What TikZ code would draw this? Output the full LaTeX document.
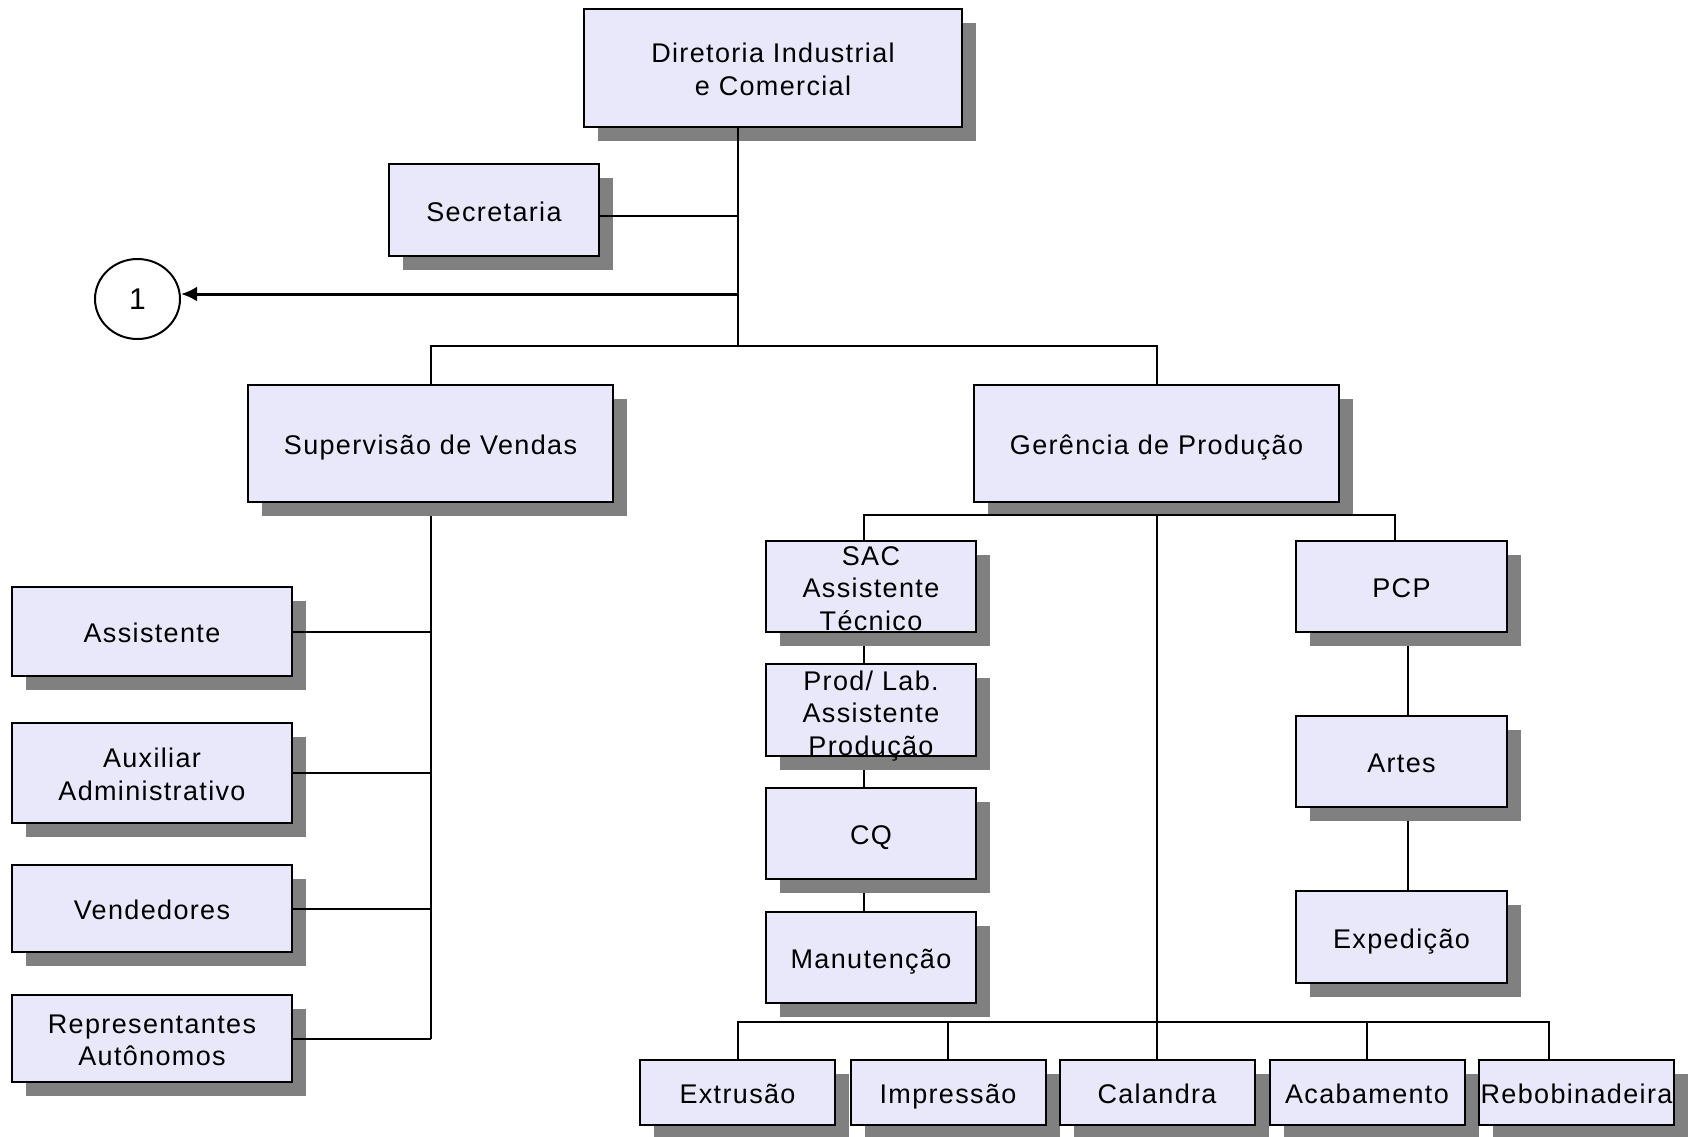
\documentclass[tikz,border=0pt]{standalone}
\usepackage{fontspec}
\setmainfont{Liberation Sans}[LetterSpace=5]
\usetikzlibrary{shadows,arrows.meta,shapes.geometric}
\definecolor{boxfill}{RGB}{232,232,250}
\definecolor{shadowgray}{RGB}{128,128,128}
\pgfdeclarelayer{bg}
\pgfsetlayers{bg,main}
\newcommand\boxfont{\fontsize{27}{32.5}\selectfont\lineskiplimit=-100pt\relax}
\newcommand\ls{\rule[-6pt]{0pt}{34pt}}
\begin{document}
\begin{tikzpicture}[x=1pt,y=-1pt,
  orgbox/.style={draw=black, line width=2pt, fill=boxfill, inner sep=0pt,
    align=center, font=\boxfont,
    drop shadow={shadow xshift=14pt, shadow yshift=-14pt, opacity=1, fill=shadowgray}},
  boxtext/.style={inner sep=0pt, align=center, font=\boxfont},
  leftbox/.style={orgbox, minimum width=280pt},
  chainbox/.style={orgbox, minimum width=210pt, minimum height=91pt},
  rowbox/.style={orgbox, minimum width=195pt, minimum height=65pt},
  conn/.style={line width=2pt, draw=black},
  arrowline/.style={line width=3pt, draw=black, -{Latex[length=16pt,width=15pt]}},
  refcircle/.style={draw=black, line width=2pt, fill=white, ellipse,
    minimum width=85pt, minimum height=80pt, inner sep=0pt, font=\fontsize{30}{34}\selectfont}
]
\useasboundingbox (0,0) rectangle (1688,1136);

% nodes
\node[orgbox, minimum width=378pt, minimum height=118pt] (dir) at (773,68) {\ls Diretoria Industrial\\\ls e Comercial};
\node[orgbox, minimum width=210pt, minimum height=92pt] (sec) at (494,210) {\ls Secretaria};
\node[refcircle] (circ) at (137.5,299) {1};
\node[orgbox, minimum width=365pt, minimum height=117pt] (sup) at (430.5,443.5) {\ls Supervisão de Vendas};
\node[orgbox, minimum width=365pt, minimum height=117pt] (ger) at (1156.5,443.5) {\ls Gerência de Produção};

\node[leftbox, minimum height=89pt] (ass) at (152,631.5) {\ls Assistente};
\node[leftbox, minimum height=100pt] (aux) at (152,773) {\ls Auxiliar\\\ls Administrativo};
\node[leftbox, minimum height=87pt] (ven) at (152,908.5) {\ls Vendedores};
\node[leftbox, minimum height=87pt] (rep) at (152,1038.5) {\ls Representantes\\\ls Autônomos};

\node[chainbox] (sac) at (871,586.5) {};
\node[boxtext] (sactext) at (sac.center) {\ls SAC\\\ls Assistente\\\ls Técnico};
\node[chainbox, minimum height=92pt] (prod) at (871,710) {};
\node[boxtext] (prodtext) at ([yshift=-1.5pt]prod.center) {\ls Prod/ Lab.\\\ls Assistente\\\ls Produção};
\node[chainbox] (cq) at (871,833.5) {\ls CQ};
\node[chainbox] (man) at (871,957.5) {\ls Manutenção};

\node[chainbox, minimum width=211pt] (pcp) at (1401.5,586.5) {\ls PCP};
\node[chainbox, minimum width=211pt] (art) at (1401.5,761.5) {\ls Artes};
\node[chainbox, minimum width=211pt, minimum height=92pt] (exp) at (1401.5,937) {\ls Expedição};

\node[rowbox] (ext) at (737.5,1092.5) {\ls Extrusão};
\node[rowbox] (imp) at (948,1092.5) {\ls Impressão};
\node[rowbox] (cal) at (1157,1092.5) {\ls Calandra};
\node[rowbox] (aca) at (1367,1092.5) {\ls Acabamento};
\node[rowbox] (reb) at (1576.5,1092.5) {\ls Rebobinadeira};

% junction coordinates
\coordinate (jtop) at (738,346);
\coordinate (secj) at ([yshift=-6pt]sec.east);
\coordinate (arrs) at (739,294);
\coordinate (gline) at (1157,515);
\coordinate (sacj) at ([xshift=-7pt]sac.north);
\coordinate (pcpj) at ([xshift=-6.5pt]pcp.north);
\coordinate (pcpl) at ([xshift=6.5pt]pcp.south);
\coordinate (jbot) at (1157,1022);
\coordinate (rebj) at ([xshift=-27.5pt]reb.north);

% connectors hidden behind shadows
\begin{pgfonlayer}{bg}
\draw[conn] (sup.south) -- (sup.south |- rep.east);
\draw[conn] (ger.south) -- (ger.south |- jbot);
\draw[conn] (sacj) -- (sacj |- man.north);
\draw[conn] (pcpl) -- (pcpl |- exp.north);
\end{pgfonlayer}

% connectors drawn over
\draw[conn] ([xshift=-35pt]dir.south) -- (jtop);
\draw[conn] (secj) -- (secj -| jtop);
\draw[arrowline] (arrs) -- (arrs -| circ.east);
\draw[conn] (sup.north) |- (jtop) -| (ger.north);

\draw[conn] (ass.east) -- (ass.east -| sup.south);
\draw[conn] (aux.east) -- (aux.east -| sup.south);
\draw[conn] (ven.east) -- (ven.east -| sup.south);
\draw[conn] (rep.east) -- (rep.east -| sup.south);

\draw[conn] (sacj) |- (gline) -| (pcpj);

\draw[conn] (ext.north) |- (jbot) -| (rebj);
\draw[conn] (imp.north) -- (imp.north |- jbot);
\draw[conn] (cal.north) -- (cal.north |- jbot);
\draw[conn] (aca.north) -- (aca.north |- jbot);
\end{tikzpicture}
\end{document}
